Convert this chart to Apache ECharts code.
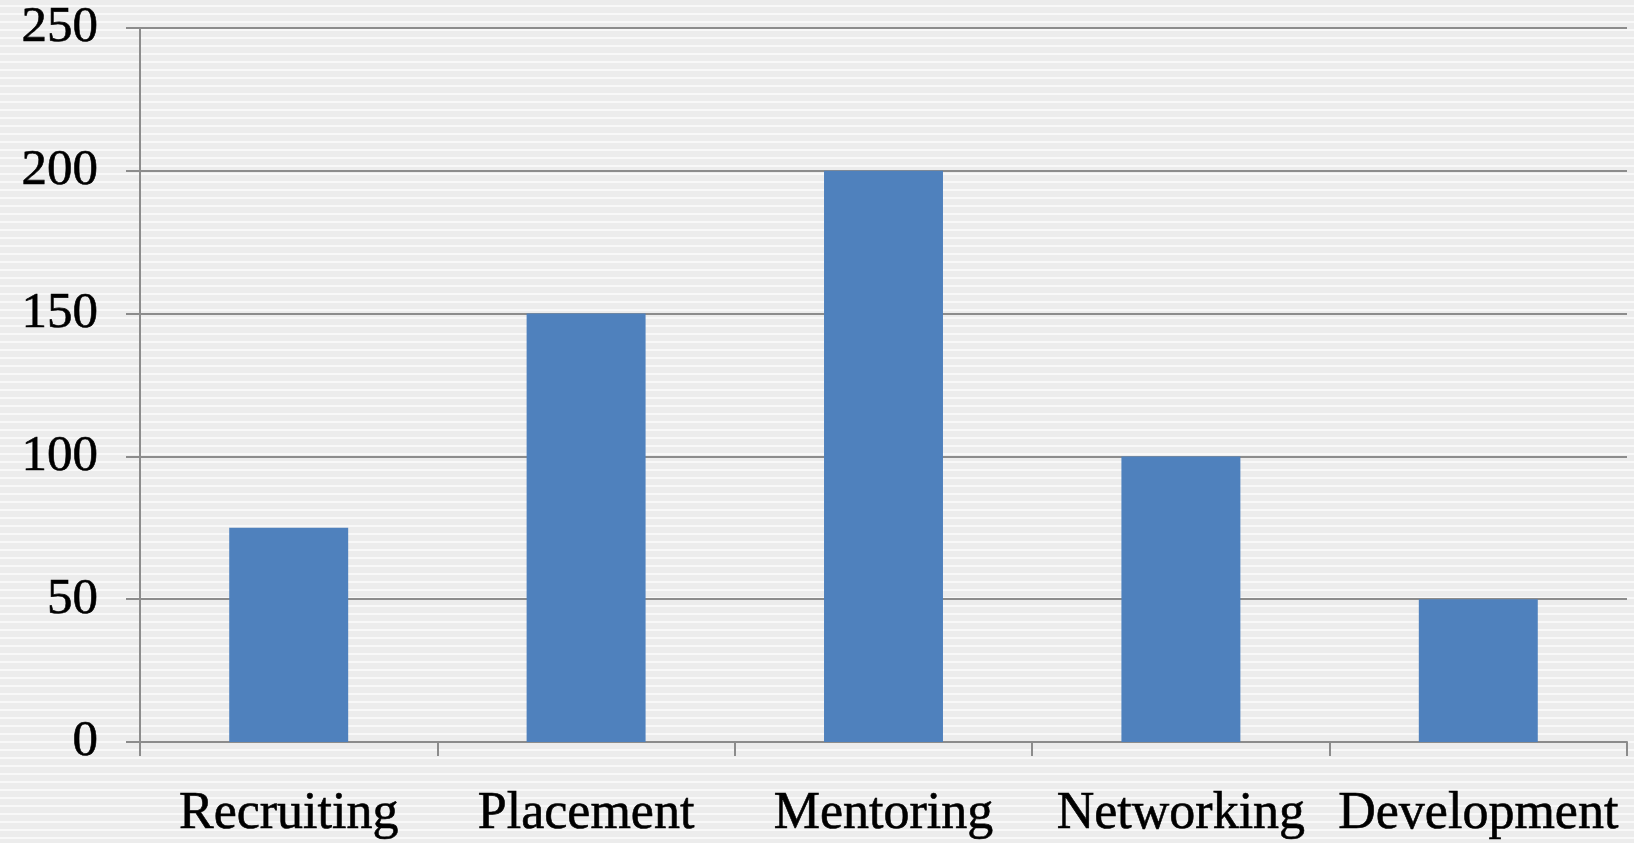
<!DOCTYPE html>
<html>
<head>
<meta charset="utf-8">
<script src="https://cdn.jsdelivr.net/npm/echarts@6/dist/echarts.min.js"></script>
<style>
html,body{margin:0;padding:0;}
body{background:repeating-linear-gradient(to bottom,#ececec 0px,#ececec 5px,#f8f8f8 5px,#f8f8f8 7px,#ececec 7px,#ececec 8px);}
#chart{width:1634px;height:843px;}
</style>
</head>
<body>
<div id="chart"></div>
<script>
const categories = ["Recruiting", "Placement", "Mentoring", "Networking", "Development"];
const values = [75, 150, 200, 100, 50];
const yTicks = [0, 50, 100, 150, 200, 250];

const chart = echarts.init(document.getElementById('chart'), null, {renderer: 'canvas'});
const axisColor = '#8c8c8c';
chart.setOption({
  backgroundColor: 'transparent',
  animation: false,
  grid: {left: 140, right: 7, top: 28, bottom: 101, containLabel: false},
  xAxis: {
    type: 'category',
    data: categories,
    boundaryGap: true,
    axisLine: {show: true, lineStyle: {color: axisColor, width: 2}},
    axisTick: {show: true, length: 14, alignWithLabel: false, lineStyle: {color: axisColor, width: 2}},
    axisLabel: {
      interval: 0, margin: 46, color: '#000',
      fontFamily: 'Liberation Serif', fontSize: 52,
      textBorderColor: '#000', textBorderWidth: 0.6
    },
    splitLine: {show: false}
  },
  yAxis: {
    type: 'value',
    min: yTicks[0], max: yTicks[yTicks.length - 1], interval: 50,
    axisLine: {show: true, lineStyle: {color: axisColor, width: 2}},
    axisTick: {show: true, length: 14, lineStyle: {color: axisColor, width: 2}},
    axisLabel: {
      margin: 42, color: '#000',
      fontFamily: 'Liberation Serif', fontSize: 51,
      textBorderColor: '#000', textBorderWidth: 0.6
    },
    splitLine: {show: true, lineStyle: {color: axisColor, width: 2}}
  },
  series: [{
    type: 'bar',
    data: values,
    barWidth: '40%',
    itemStyle: {color: '#4f81bd'}
  }]
});
</script>
</body>
</html>
